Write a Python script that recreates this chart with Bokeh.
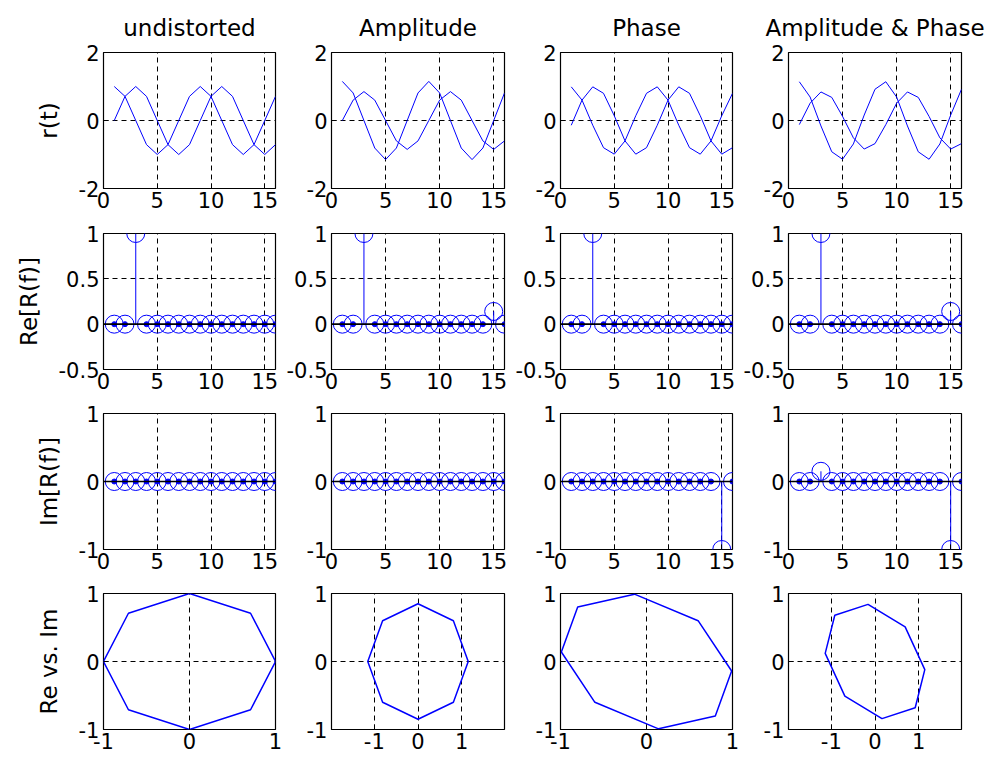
from bokeh.plotting import figure
from bokeh.layouts import gridplot
from bokeh.models import FixedTicker, CustomJSTickFormatter, Range1d, Span
from bokeh.embed import file_html
from bokeh.resources import INLINE

FONT = "DejaVu Sans"
BLUE = "#0000ff"
TICK_FS = "21px"
LAB_FS = "23px"

# ---------------- data ----------------
t = [1, 2, 3, 4, 5, 6, 7, 8, 9, 10, 11, 12, 13, 14, 15, 16]
f = [1, 2, 3, 4, 5, 6, 7, 8, 9, 10, 11, 12, 13, 14, 15, 16]

titles = ["undistorted", "Amplitude", "Phase", "Amplitude & Phase"]
row_labels = ["r(t)", "Re[R(f)]", "Im[R(f)]", "Re vs. Im"]

# time signals: real part and imaginary part
re_undist = [1.0, 0.71, 0.0, -0.71, -1.0, -0.71, 0.0, 0.71, 1.0, 0.71, 0.0, -0.71, -1.0, -0.71, 0.0, 0.71]
im_undist = [0.0, 0.71, 1.0, 0.71, 0.0, -0.71, -1.0, -0.71, 0.0, 0.71, 1.0, 0.71, 0.0, -0.71, -1.0, -0.71]
re_amp = [1.15, 0.81, 0.0, -0.81, -1.15, -0.81, 0.0, 0.81, 1.15, 0.81, 0.0, -0.81, -1.15, -0.81, 0.0, 0.81]
im_amp = [0.0, 0.60, 0.85, 0.60, 0.0, -0.60, -0.85, -0.60, 0.0, 0.60, 0.85, 0.60, 0.0, -0.60, -0.85, -0.60]
re_phase = [0.99, 0.60, -0.14, -0.80, -0.99, -0.60, 0.14, 0.80, 0.99, 0.60, -0.14, -0.80, -0.99, -0.60, 0.14, 0.80]
im_phase = [-0.14, 0.60, 0.99, 0.80, 0.14, -0.60, -0.99, -0.80, -0.14, 0.60, 0.99, 0.80, 0.14, -0.60, -0.99, -0.80]
re_ap = [1.14, 0.69, -0.16, -0.92, -1.14, -0.69, 0.16, 0.92, 1.14, 0.69, -0.16, -0.92, -1.14, -0.69, 0.16, 0.92]
im_ap = [-0.12, 0.51, 0.84, 0.68, 0.12, -0.51, -0.84, -0.68, -0.12, 0.51, 0.84, 0.68, 0.12, -0.51, -0.84, -0.68]

# spectra (real and imaginary parts)
Re_undist = [0, 0, 1, 0, 0, 0, 0, 0, 0, 0, 0, 0, 0, 0, 0, 0]
Re_amp = [0, 0, 1, 0, 0, 0, 0, 0, 0, 0, 0, 0, 0, 0, 0.14, 0]
Re_phase = [0, 0, 1, 0, 0, 0, 0, 0, 0, 0, 0, 0, 0, 0, 0, 0]
Re_ap = [0, 0, 1, 0, 0, 0, 0, 0, 0, 0, 0, 0, 0, 0, 0.14, 0]
Im_undist = [0, 0, 0, 0, 0, 0, 0, 0, 0, 0, 0, 0, 0, 0, 0, 0]
Im_amp = [0, 0, 0, 0, 0, 0, 0, 0, 0, 0, 0, 0, 0, 0, 0, 0]
Im_phase = [0, 0, 0, 0, 0, 0, 0, 0, 0, 0, 0, 0, 0, 0, -1, 0]
Im_ap = [0, 0, 0.15, 0, 0, 0, 0, 0, 0, 0, 0, 0, 0, 0, -1, 0]

sig_re = [re_undist, re_amp, re_phase, re_ap]
sig_im = [im_undist, im_amp, im_phase, im_ap]
spec_re = [Re_undist, Re_amp, Re_phase, Re_ap]
spec_im = [Im_undist, Im_amp, Im_phase, Im_ap]

x_ticks_t = [0, 5, 10, 15]
y_ticks_r = [-2, 0, 2]
y_ticks_re = [-0.5, 0, 0.5, 1]
y_ticks_im = [-1, 0, 1]
iq_ticks = [-1, 0, 1]
iq_xlims = [(-1, 1), (-1.98, 1.98), (-1, 1), (-1.98, 1.98)]

# ---------------- layout geometry ----------------
col_left = [103, 47, 47, 47]
col_frame = [172, 174, 173, 174]
col_right = [8, 8, 8, 25]
row_top = [52, 14, 13, 13]
row_frame = [136, 136, 136, 136]
row_bottom = [31, 31, 31, 33]

fmt = CustomJSTickFormatter(code="return String(tick);")


def make_fig(r, c, xr, yr, xt, yt):
    p = figure(
        width=col_left[c] + col_frame[c] + col_right[c],
        height=row_top[r] + row_frame[r] + row_bottom[r],
        x_range=Range1d(*xr), y_range=Range1d(*yr),
        min_border_left=col_left[c], min_border_right=col_right[c],
        min_border_top=row_top[r], min_border_bottom=row_bottom[r],
        output_backend="svg", toolbar_location=None,
        title=titles[c] if r == 0 else None,
    )
    p.background_fill_color = "white"
    p.border_fill_color = "white"
    p.outline_line_color = "black"
    p.outline_line_width = 1.2
    p.outline_line_alpha = 1
    if r == 0:
        p.title.align = "center"
        p.title.text_font = FONT
        p.title.text_font_size = LAB_FS
        p.title.text_font_style = "normal"
        p.title.text_color = "black"
        p.title.text_line_height = 1.0
        p.title.standoff = 24
    for ax, ticks, so in ((p.xaxis[0], xt, 3), (p.yaxis[0], yt, 4)):
        ax.ticker = FixedTicker(ticks=ticks)
        ax.formatter = fmt
        ax.major_label_text_font = FONT
        ax.major_label_text_font_size = TICK_FS
        ax.major_label_text_color = "black"
        ax.major_tick_in = 5
        ax.major_tick_out = 0
        ax.minor_tick_line_color = None
        ax.axis_line_color = None
        ax.major_tick_line_color = "black"
        ax.major_label_standoff = so
    if c == 0:
        p.yaxis.axis_label = row_labels[r]
        p.yaxis.axis_label_text_font = FONT
        p.yaxis.axis_label_text_font_size = LAB_FS
        p.yaxis.axis_label_text_font_style = "normal"
        p.yaxis.axis_label_text_color = "black"
        p.yaxis.axis_label_standoff = 14
    for g in (p.xgrid[0], p.ygrid[0]):
        g.grid_line_color = "black"
        g.grid_line_dash = "5 4"
        g.grid_line_width = 1
        g.grid_line_alpha = 1
    return p


grid = [[None] * 4 for _ in range(4)]
for c in range(4):
    # row 1: time signals
    p = make_fig(0, c, (0, 16), (-2, 2), x_ticks_t, y_ticks_r)
    p.line(t, sig_re[c], line_color=BLUE, line_width=1)
    p.line(t, sig_im[c], line_color=BLUE, line_width=1)
    grid[0][c] = p

    # rows 2-3: stem plots
    for r, spec, ylim, yt in ((1, spec_re[c], (-0.5, 1), y_ticks_re),
                              (2, spec_im[c], (-1, 1), y_ticks_im)):
        p = make_fig(r, c, (0, 16), ylim, x_ticks_t, yt)
        p.add_layout(Span(location=0, dimension="width", line_color="black", line_width=1.6))
        zeros = [0] * len(f)
        p.segment(x0=f, y0=zeros, x1=f, y1=spec, line_color=BLUE, line_width=1)
        zf = [fx for fx, v in zip(f, spec) if v == 0]
        zv = [v for v in spec if v == 0]
        p.scatter(zf, zv, marker="circle", size=5, fill_color=BLUE, line_color=BLUE)
        p.scatter(f, spec, marker="circle", size=18, fill_color=None, line_color=BLUE, line_width=1)
        grid[r][c] = p

    # row 4: Re vs Im
    p = make_fig(3, c, iq_xlims[c], (-1, 1), iq_ticks, iq_ticks)
    p.line(sig_re[c], sig_im[c], line_color=BLUE, line_width=1.5)
    grid[3][c] = p

layout = gridplot(grid, toolbar_location=None)
open("out.html", "w").write(file_html(layout, INLINE))
